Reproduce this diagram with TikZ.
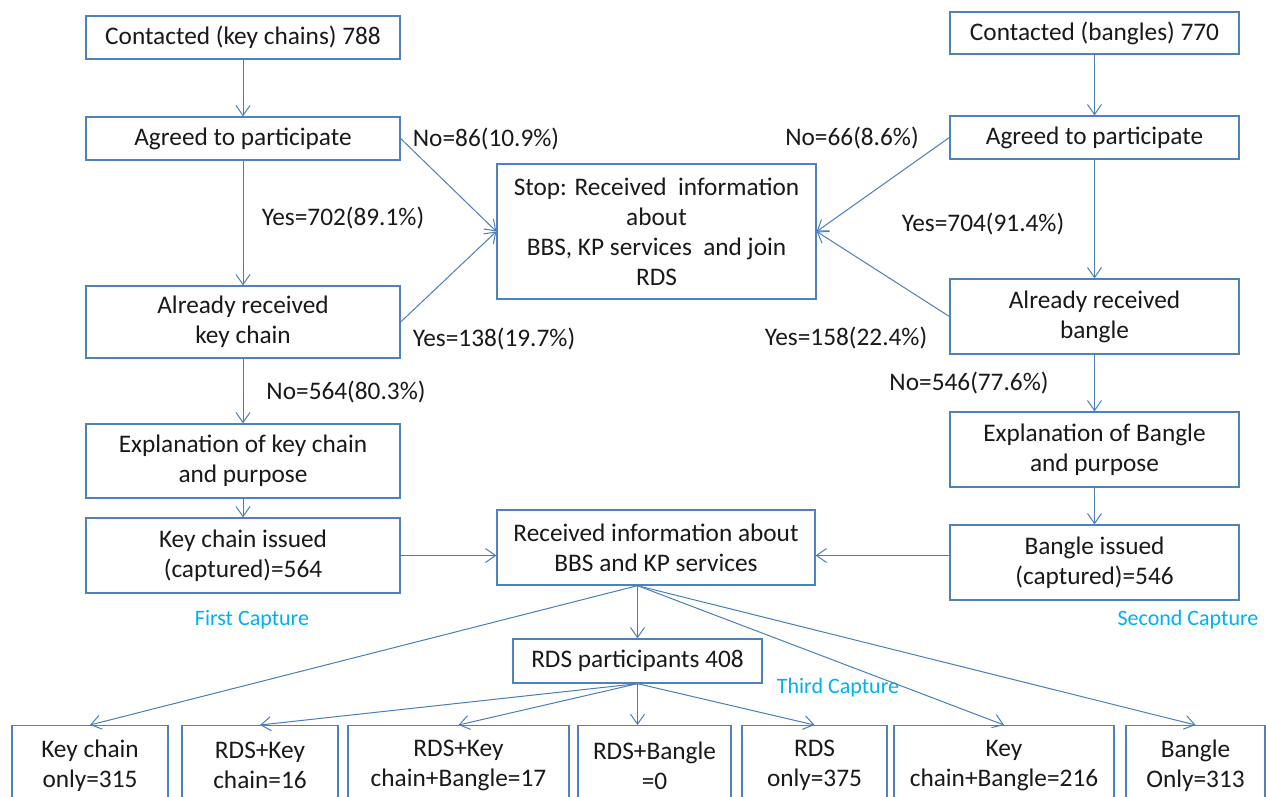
\documentclass[tikz,border=0pt]{standalone}
\usepackage{fontspec}
\setmainfont{Carlito}
\usetikzlibrary{positioning,arrows.meta}
\definecolor{FCBox}{HTML}{4F81BD}
\definecolor{FCLine}{HTML}{4A7EBB}
\definecolor{FCCyan}{HTML}{00B0F0}

\begin{document}
\begin{tikzpicture}[
  x=1pt, y=-1pt,
  flowbox/.style={draw=FCBox, line width=1.3pt, inner sep=0pt, align=center, text=black!90, font=\fontsize{25.3}{30}\selectfont},
  keybox/.style={flowbox, minimum width=314pt},
  bangbox/.style={flowbox, minimum width=289pt},
  leafbox/.style={flowbox, anchor=north, minimum height=80pt},
  flowarrow/.style={-{Straight Barb[length=10pt,width=14pt]}, line width=1pt, FCLine},
  countlabel/.style={text=black!90, font=\fontsize{25.3}{30}\selectfont, inner sep=0pt},
  capturelabel/.style={text=FCCyan, font=\fontsize{22}{26}\selectfont, inner sep=0pt}
]
\clip (0,0) rectangle (1266,796);
% key chain side
\node[keybox, minimum height=43pt] (kcontact) at (243,37.5) {Contacted (key chains) 788};
\node[keybox, minimum height=43pt] (kagree) at (243,138.5) {Agreed to participate};
\node[keybox, minimum height=72pt] (kalready) at (243,322) {Already received\\key chain};
\node[keybox, minimum height=74pt] (kexplain) at (243,461) {Explanation of key chain\\and purpose};
\node[keybox, minimum height=75pt] (kissued) at (243,555.5) {Key chain issued\\(captured)=564};
% bangle side
\node[bangbox, minimum height=42pt] (bcontact) at (1094.5,33) {Contacted (bangles) 770};
\node[bangbox, minimum height=43pt] (bagree) at (1094.5,137.5) {Agreed to participate};
\node[bangbox, minimum height=75pt] (balready) at (1094.5,316.5) {Already received\\bangle};
\node[bangbox, minimum height=75pt] (bexplain) at (1094.5,449.5) {Explanation of Bangle\\and purpose};
\node[bangbox, minimum height=75pt] (bissued) at (1094.5,562.5) {Bangle issued\\(captured)=546};
% middle
\node[flowbox, minimum width=319pt, minimum height=135pt] (stop) at (656.5,231.5) {Stop: Received\ \ information\\about\\BBS, KP services\ \ and join\\RDS};
\node[flowbox, minimum width=318pt, minimum height=75pt] (received) at (656,547.5) {Received information about\\BBS and KP services};
\node[flowbox, minimum width=249pt, minimum height=44pt] (rds) at (637.5,661) {RDS participants 408};
% outcomes
\node[leafbox, minimum width=156pt] (konly) at (90,725) {Key chain\\only=315};
\node[leafbox, minimum width=156pt] (rdskey) at (260,725) {RDS+Key\\chain=16};
\node[leafbox, minimum width=221pt] (rdsall) at (458.5,725) {RDS+Key\\chain+Bangle=17};
\node[leafbox, minimum width=153pt] (rdsbang) at (654.5,725) {RDS+Bangle\\=0};
\node[leafbox, minimum width=145pt] (rdsonly) at (814.5,725) {RDS\\only=375};
\node[leafbox, minimum width=220pt] (keybang) at (1004,725) {Key\\chain+Bangle=216};
\node[leafbox, minimum width=139pt] (bonly) at (1195.5,725) {Bangle\\Only=313};
% counts
\node[countlabel] (kyes) at (343,218) {Yes=702(89.1\%)};
\node[countlabel] (kno) at (346,392) {No=564(80.3\%)};
\node[countlabel] (kstopno) at (486,139) {No=86(10.9\%)};
\node[countlabel] (kstopyes) at (494,339) {Yes=138(19.7\%)};
\node[countlabel] (bstopno) at (852,138) {No=66(8.6\%)};
\node[countlabel] (byes) at (983,224) {Yes=704(91.4\%)};
\node[countlabel] (bstopyes) at (846,338) {Yes=158(22.4\%)};
\node[countlabel] (bno) at (969,383) {No=546(77.6\%)};
\node[capturelabel] (firstcap) at (252,620) {First Capture};
\node[capturelabel] (secondcap) at (1188,620) {Second Capture};
\node[capturelabel] (thirdcap) at (838,688) {Third Capture};
% connectors
\draw[flowarrow] (kcontact.south) -- (kagree.north);
\draw[flowarrow] (kagree.south) -- (kalready.north);
\draw[flowarrow] (kalready.south) -- (kexplain.north);
\draw[flowarrow] (kexplain.south) -- (kissued.north);
\draw[flowarrow] (bcontact.south) -- (bagree.north);
\draw[flowarrow] (bagree.south) -- (balready.north);
\draw[flowarrow] (balready.south) -- (bexplain.north);
\draw[flowarrow] (bexplain.south) -- (bissued.north);
\draw[flowarrow] (kagree.east) -- (stop.west);
\draw[flowarrow] (kalready.east) -- (stop.west);
\draw[flowarrow] (bagree.west) -- (stop.east);
\draw[flowarrow] (balready.west) -- (stop.east);
\draw[flowarrow] (kissued.east) -- (kissued.east -| received.west);
\draw[flowarrow] (bissued.west |- kissued.east) -- (received.east |- kissued.east);
\coordinate (recfoot) at (received.south -| rds.north);
\draw[flowarrow] (recfoot) -- (rds.north);
\draw[flowarrow] (recfoot) -- (konly.north);
\draw[flowarrow] (recfoot) -- (keybang.north);
\draw[flowarrow] (recfoot) -- (bonly.north);
\draw[flowarrow] (rds.south) -- (rdskey.north);
\draw[flowarrow] (rds.south) -- (rdsall.north);
\draw[flowarrow] (rds.south) -- (rds.south |- rdsbang.north);
\draw[flowarrow] (rds.south) -- (rdsonly.north);
\end{tikzpicture}
\end{document}
